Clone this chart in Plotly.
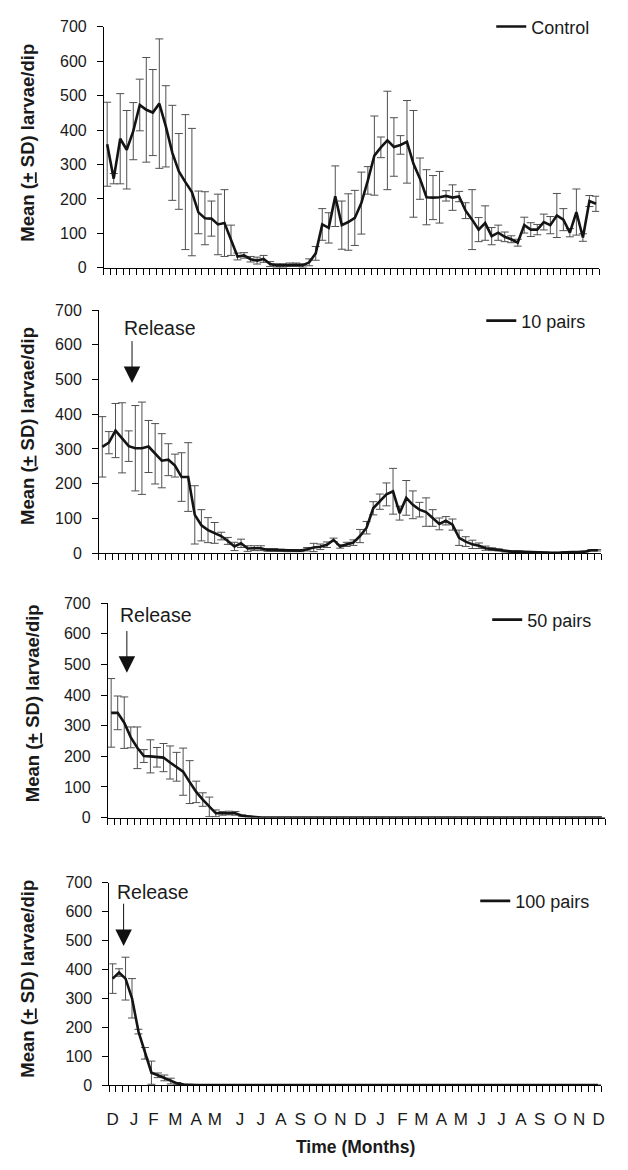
import plotly.graph_objects as go

# ---------------- data ----------------
n_samples = 76
sample_idx = list(range(n_samples))

control_mean = [359, 259, 375, 343, 397, 473, 459, 451, 477, 411,
                334, 280, 249, 220, 161, 144, 143, 126, 130, 80,
                33, 36, 25, 21, 26, 11, 7, 7, 9, 9,
                7, 16, 42, 126, 116, 208, 124, 133, 145, 188,
                254, 326, 350, 370, 351, 357, 366, 302, 259, 205,
                204, 205, 209, 204, 207, 166, 140, 111, 130, 92,
                102, 90, 83, 73, 124, 111, 111, 133, 124, 152,
                140, 102, 162, 88, 194, 186]
control_sd = [122, 15, 131, 114, 83, 75, 152, 125, 188, 118,
              138, 110, 196, 185, 62, 77, 51, 88, 97, 44,
              10, 8, 8, 10, 10, 7, 5, 5, 5, 5,
              5, 10, 20, 46, 44, 88, 70, 82, 80, 90,
              40, 115, 30, 143, 85, 27, 120, 155, 60, 80,
              64, 75, 15, 37, 15, 23, 87, 35, 50, 25,
              22, 14, 10, 10, 23, 20, 15, 23, 25, 64,
              32, 12, 67, 11, 16, 22]

pairs10_mean = [306, 318, 353, 332, 308, 302, 302, 307, 286, 266,
                269, 252, 219, 219, 110, 80, 66, 58, 49, 35,
                19, 28, 13, 14, 14, 9, 9, 8, 7, 7,
                7, 11, 16, 18, 24, 38, 19, 25, 30, 49,
                73, 129, 148, 169, 178, 115, 159, 139, 125, 118,
                101, 84, 93, 82, 44, 33, 25, 21, 14, 11,
                9, 5, 4, 4, 3, 2, 3, 2, 1, 1,
                3, 3, 3, 4, 8, 8]
pairs10_sd = [87, 32, 78, 101, 44, 123, 133, 75, 87, 78,
              46, 33, 70, 99, 84, 45, 36, 30, 11, 10,
              12, 12, 8, 7, 7, 4, 4, 3, 3, 3,
              3, 5, 12, 8, 8, 5, 5, 6, 8, 19,
              18, 19, 22, 33, 66, 20, 50, 40, 21, 41,
              24, 17, 12, 16, 22, 14, 12, 8, 6, 4,
              3, 2, 2, 2, 1, 1, 1, 1, 1, 1,
              1, 1, 1, 1, 2, 2]

pairs50_mean = [342, 342, 310, 262, 228, 201, 200, 197, 196, 180,
                166, 150, 116, 84, 59, 35, 14, 14, 15, 14,
                6, 3, 2] + [0] * 53
pairs50_sd = [112, 55, 84, 34, 68, 21, 54, 32, 46, 54,
              47, 77, 70, 35, 22, 32, 11, 6, 6, 6,
              3, 2, 1] + [0] * 53

pairs100_mean = [368, 389, 368, 300, 185, 110, 43, 34, 25, 14,
                 6, 2] + [0] * 64
pairs100_sd = [51, 13, 74, 68, 8, 20, 40, 8, 10, 10,
               3, 1] + [0] * 64

series_names = ["Control", "10 pairs", "50 pairs", "100 pairs"]
series_means = [control_mean, pairs10_mean, pairs50_mean, pairs100_mean]
series_sds = [control_sd, pairs10_sd, pairs50_sd, pairs100_sd]

month_labels = ["D", "J", "F", "M", "A", "M", "J", "J", "A", "S", "O", "N",
                "D", "J", "F", "M", "A", "M", "J", "J", "A", "S", "O", "N", "D"]
month_pos = [0.0, 3.3, 6.3, 9.7, 12.9, 15.8, 19.7, 22.9, 26.0, 29.0, 32.1, 35.2,
             38.3, 41.4, 44.8, 47.7, 50.8, 53.8, 57.0, 60.1, 63.1, 66.0, 69.2, 72.1, 75.1]
y_ticks = [0, 100, 200, 300, 400, 500, 600, 700]

# release arrows (panels 2-4): arrow x (sample index), arrow tip / tail, label position
release_arrow_x = [4.5, 2.4, 1.7]
release_tip = [490, 473, 481]
release_tail = [615, 614, 632]
release_text_x = [8.8, 6.9, 6.3]
release_text_y = [648, 660, 666]

# ---------------- layout geometry (page px; the page body adds an 8 px margin) ----------------
PAGE_PAD = 8
W, H = 612, 1154
x_domains_page = [(102, 603), (97, 605), (106, 609), (107.5, 605)]
y_domains_page = [(17, 262), (305, 552), (603, 821), (887, 1093)]  # (top px, bottom px)
legend_right_page = [599, 595, 601, 599]
legend_mid_page = [17, 316, 620, 906]
ytitle_pos_page = [(25, 135), (24, 423), (30, 705), (25, 985)]
xtitle_y_page = 1156


def px_x(v):
    return (v - PAGE_PAD) / W


def px_y(v):
    return 1 - (v - PAGE_PAD) / H


FONT = "Liberation Sans, Arial, Helvetica, sans-serif"
TXT = "#1a1a1a"
boundaries = [i - 0.5 for i in range(n_samples + 1)]

fig = go.Figure()
layout = dict(width=W, height=H, margin=dict(l=0, r=0, t=0, b=0),
              paper_bgcolor="white", plot_bgcolor="white",
              font=dict(family=FONT, size=16, color=TXT),
              annotations=[])

for k in range(4):
    sfx = "" if k == 0 else str(k + 1)
    fig.add_trace(go.Scatter(
        x=sample_idx, y=series_means[k], mode="lines", name=series_names[k],
        line=dict(color="#141414", width=2.6),
        error_y=dict(type="data", array=series_sds[k], visible=True,
                     color="#505050", thickness=1, width=4),
        xaxis="x" + sfx, yaxis="y" + sfx, legend="legend" + sfx,
        showlegend=True))

    x0, x1 = x_domains_page[k]
    yt, yb = y_domains_page[k]
    xa = dict(domain=[px_x(x0), px_x(x1)], range=[-0.5, n_samples - 0.5],
              anchor="y" + sfx, showline=True, linecolor="black", linewidth=1,
              showgrid=False, zeroline=False,
              minor=dict(tickmode="array", tickvals=boundaries, ticks="outside",
                         ticklen=6, tickwidth=1, tickcolor="black", showgrid=False))
    if k == 3:
        xa.update(tickmode="array", tickvals=month_pos, ticktext=month_labels,
                  ticks="outside", ticklen=18, tickcolor="rgba(0,0,0,0)",
                  showticklabels=True, tickfont=dict(size=17, family=FONT, color=TXT))
    else:
        xa.update(tickmode="array", tickvals=[], ticks="", showticklabels=False)
    ya = dict(domain=[px_y(yb), px_y(yt)], range=[0, 700],
              anchor="x" + sfx, tickmode="array", tickvals=y_ticks,
              ticks="outside", ticklen=6, tickcolor="black", ticklabelstandoff=7,
              showline=True, linecolor="black", linewidth=1,
              showgrid=False, zeroline=False,
              tickfont=dict(size=16, family=FONT, color=TXT))
    layout["xaxis" + sfx] = xa
    layout["yaxis" + sfx] = ya

    layout["legend" + sfx] = dict(x=px_x(legend_right_page[k]), y=px_y(legend_mid_page[k]),
                                  xanchor="right", yanchor="middle",
                                  bgcolor="rgba(0,0,0,0)", borderwidth=0,
                                  font=dict(size=18, family=FONT, color=TXT))

    tx, ty = ytitle_pos_page[k]
    layout["annotations"].append(dict(
        text="<b>Mean (<u>+</u> SD) larvae/dip</b>", textangle=-90,
        xref="paper", yref="paper", x=px_x(tx), y=px_y(ty),
        xanchor="center", yanchor="middle", showarrow=False,
        font=dict(size=18.5, family=FONT, color=TXT)))

    if k >= 1:
        j = k - 1
        layout["annotations"].append(dict(
            text="Release", xref="x" + sfx, yref="y" + sfx,
            x=release_text_x[j], y=release_text_y[j], showarrow=False,
            xanchor="center", yanchor="middle",
            font=dict(size=19.5, family=FONT, color=TXT)))
        layout["annotations"].append(dict(
            text="", xref="x" + sfx, yref="y" + sfx,
            x=release_arrow_x[j], y=release_tip[j],
            axref="x" + sfx, ayref="y" + sfx,
            ax=release_arrow_x[j], ay=release_tail[j],
            showarrow=True, arrowhead=2, arrowsize=3.3, arrowwidth=1,
            arrowcolor="#111111", standoff=0, startstandoff=0))

layout["annotations"].append(dict(
    text="<b>Time (Months)</b>", xref="x4 domain", yref="paper",
    x=0.5, y=px_y(xtitle_y_page), xanchor="center", yanchor="middle", showarrow=False,
    font=dict(size=17.5, family=FONT, color=TXT)))

fig.update_layout(**layout)
fig.write_html("out.html")
